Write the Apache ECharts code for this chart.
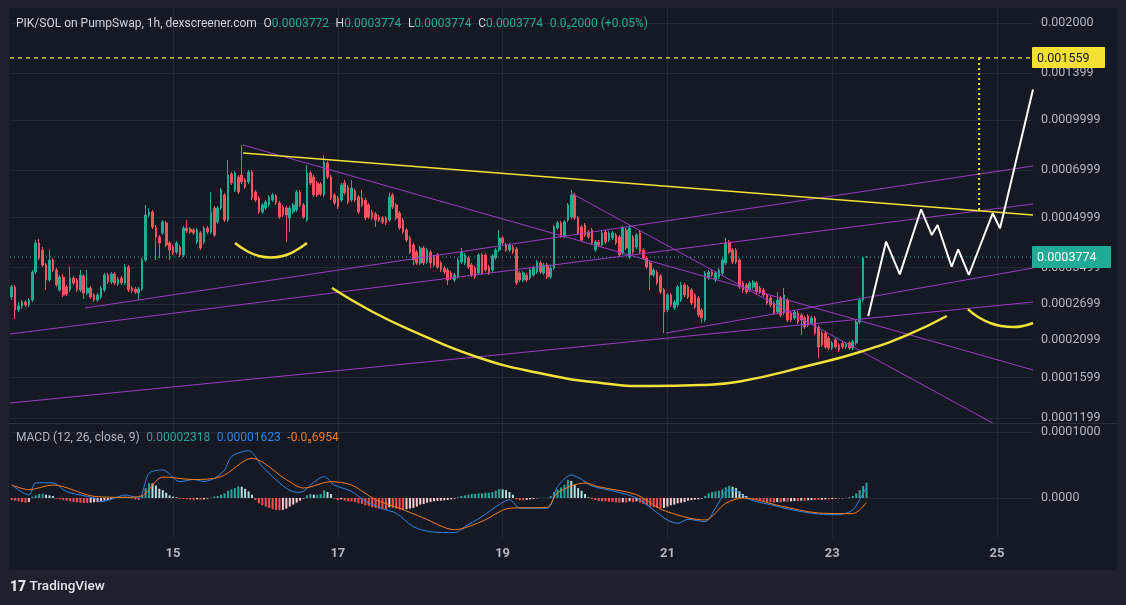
<!DOCTYPE html>
<html><head><meta charset="utf-8">
<script src="https://cdn.jsdelivr.net/npm/echarts/dist/echarts.min.js"></script>
<style>html,body{margin:0;padding:0;background:#1f222c;}#c{width:1126px;height:605px;}</style>
</head><body><div id="c"></div><script>
// ---------- time scale (hourly categories, 13th 01:00 .. 25th 10:00) ----------
const START_DAY = 13, START_HOUR = 1, HOURS = 298;
const dayLabels = ['15', '17', '19', '21', '23', '25'];

// ---------- candles: [open, close, low, high] ----------
const candles = [
[0.0002839,0.0003049,0.0002779,0.0003092],[0.0003049,0.0002588,0.0002427,0.0003092],[0.0002588,0.0002663,0.0002551,0.0002739],[0.0002663,0.0002739,0.0002606,0.0002779],[0.0002739,0.0002682,0.0002644,0.0002779],
[0.0002682,0.0002779,0.0002644,0.0002819],[0.0002779,0.0003392,0.0002739,0.0003441],[0.0003392,0.0004171,0.0003344,0.0004261],[0.0004171,0.0003748,0.0003695,0.0004292],[0.0003968,0.0003566,0.0003515,0.0004054],
[0.0003566,0.0003204,0.0002984,0.0003617],[0.0003204,0.0003695,0.0003159,0.0003968],[0.0003695,0.0003441,0.0003392,0.0003748],[0.0003441,0.0003092,0.0003049,0.0003490],[0.0002984,0.0003274,0.0002942,0.0003321],
[0.0003274,0.0002880,0.0002839,0.0003344],[0.0003049,0.0002900,0.0002859,0.0003092],[0.0002984,0.0003250,0.0002942,0.0003515],[0.0003250,0.0003137,0.0003092,0.0003297],[0.0003204,0.0002984,0.0002942,0.0003250],
[0.0002984,0.0003321,0.0002942,0.0003441],[0.0003297,0.0002921,0.0002799,0.0003344],[0.0002921,0.0003027,0.0002880,0.0003441],[0.0003027,0.0002839,0.0002799,0.0003070],[0.0002880,0.0002779,0.0002739,0.0002921],
[0.0002779,0.0002880,0.0002739,0.0002921],[0.0002839,0.0003027,0.0002799,0.0003070],[0.0002984,0.0003321,0.0002942,0.0003368],[0.0003321,0.0003159,0.0003114,0.0003368],[0.0003159,0.0003344,0.0003114,0.0003392],
[0.0003344,0.0003137,0.0003092,0.0003392],[0.0003114,0.0003227,0.0003070,0.0003274],[0.0003250,0.0003137,0.0003092,0.0003297],[0.0003137,0.0003515,0.0003092,0.0003591],[0.0003515,0.0002984,0.0002942,0.0003566],
[0.0003027,0.0002963,0.0002921,0.0003070],[0.0003006,0.0002942,0.0002900,0.0003049],[0.0002921,0.0003006,0.0002779,0.0003049],[0.0003006,0.0003695,0.0002963,0.0003748],[0.0003695,0.0005092,0.0003643,0.0005468],
[0.0005092,0.0005202,0.0005020,0.0005353],[0.0005202,0.0004675,0.0004609,0.0005277],[0.0004675,0.0004354,0.0003695,0.0004742],[0.0004354,0.0004171,0.0003748,0.0004416],[0.0004480,0.0004845,0.0004416,0.0004914],
[0.0004810,0.0004112,0.0004054,0.0004879],[0.0004171,0.0003968,0.0003695,0.0004231],[0.0004054,0.0003884,0.0003829,0.0004112],[0.0003912,0.0004171,0.0003857,0.0004231],[0.0004054,0.0003829,0.0003775,0.0004112],
[0.0003829,0.0004642,0.0003775,0.0004709],[0.0004642,0.0004544,0.0004480,0.0004914],[0.0004609,0.0004512,0.0004448,0.0004675],[0.0004576,0.0004480,0.0004416,0.0004642],[0.0004201,0.0004576,0.0004142,0.0004642],
[0.0004480,0.0004025,0.0003968,0.0004544],[0.0004201,0.0004642,0.0004142,0.0004709],[0.0004642,0.0004512,0.0004448,0.0004709],[0.0004512,0.0005202,0.0004448,0.0005999],[0.0005353,0.0004416,0.0004354,0.0005429],
[0.0004845,0.0005353,0.0004776,0.0005429],[0.0005353,0.0006085,0.0005277,0.0006172],[0.0005872,0.0004914,0.0004845,0.0005956],[0.0004914,0.0006771,0.0004845,0.0007535],[0.0006820,0.0006396,0.0006306,0.0006918],
[0.0006085,0.0006868,0.0005999,0.0006967],[0.0006675,0.0005999,0.0005914,0.0006771],[0.0006771,0.0006442,0.0006351,0.0008385],[0.0006534,0.0006216,0.0006128,0.0006628],[0.0006442,0.0006918,0.0006351,0.0007017],
[0.0006918,0.0005748,0.0005666,0.0007017],[0.0005999,0.0005666,0.0005586,0.0006085],[0.0005748,0.0005202,0.0005129,0.0005830],[0.0005202,0.0005468,0.0005129,0.0005547],[0.0005353,0.0005586,0.0005277,0.0005666],
[0.0005468,0.0005789,0.0005391,0.0005872],[0.0005666,0.0005872,0.0005586,0.0005956],[0.0005830,0.0005547,0.0005468,0.0005914],[0.0005547,0.0005020,0.0004949,0.0005626],[0.0005391,0.0005092,0.0005020,0.0005468],
[0.0005353,0.0005092,0.0004201,0.0005429],[0.0004985,0.0005353,0.0004512,0.0005429],[0.0005202,0.0005468,0.0005129,0.0005547],[0.0005277,0.0005999,0.0005202,0.0006085],[0.0005999,0.0005468,0.0005391,0.0006085],
[0.0005468,0.0005020,0.0004949,0.0005547],[0.0004914,0.0006868,0.0004845,0.0007271],[0.0006868,0.0006396,0.0006306,0.0006967],[0.0006675,0.0005872,0.0005789,0.0006771],[0.0006396,0.0005872,0.0005789,0.0006488],
[0.0006351,0.0005914,0.0005830,0.0006442],[0.0005872,0.0007428,0.0005789,0.0007808],[0.0007376,0.0006675,0.0006581,0.0007481],[0.0006675,0.0005748,0.0005666,0.0006771],[0.0005872,0.0005547,0.0005468,0.0005956],
[0.0005748,0.0005391,0.0005315,0.0005830],[0.0005666,0.0006306,0.0005586,0.0006396],[0.0006396,0.0005956,0.0005872,0.0006534],[0.0006216,0.0005586,0.0005507,0.0006306],[0.0005666,0.0006172,0.0005586,0.0006534],
[0.0006042,0.0005666,0.0005586,0.0006128],[0.0005789,0.0005202,0.0005129,0.0005872],[0.0005748,0.0005468,0.0005391,0.0006085],[0.0005666,0.0004985,0.0004914,0.0005748],[0.0005468,0.0005020,0.0004949,0.0005547],
[0.0005202,0.0004985,0.0004914,0.0005277],[0.0005129,0.0004914,0.0004675,0.0005202],[0.0005020,0.0004914,0.0004845,0.0005092],[0.0004985,0.0004845,0.0004776,0.0005056],[0.0004985,0.0004810,0.0004742,0.0005056],
[0.0004914,0.0005789,0.0004845,0.0005956],[0.0005872,0.0005391,0.0005315,0.0005956],[0.0005468,0.0004985,0.0004914,0.0005547],[0.0005165,0.0004642,0.0004576,0.0005239],[0.0004914,0.0004512,0.0004448,0.0004985],
[0.0004576,0.0004261,0.0004201,0.0004642],[0.0004323,0.0003912,0.0003857,0.0004385],[0.0004112,0.0003695,0.0003566,0.0004171],[0.0003912,0.0003617,0.0003566,0.0003968],[0.0003617,0.0004025,0.0003566,0.0004083],
[0.0004025,0.0003617,0.0003566,0.0004083],[0.0003643,0.0003968,0.0003591,0.0004025],[0.0003912,0.0003617,0.0003490,0.0003968],[0.0003775,0.0003566,0.0003515,0.0003829],[0.0003829,0.0003515,0.0003465,0.0003884],
[0.0003617,0.0003441,0.0003392,0.0003669],[0.0003490,0.0003392,0.0003344,0.0003540],[0.0003441,0.0003204,0.0003092,0.0003490],[0.0003368,0.0003250,0.0003204,0.0003416],[0.0003204,0.0003321,0.0003159,0.0003368],
[0.0003274,0.0003695,0.0003227,0.0003748],[0.0003643,0.0003912,0.0003591,0.0004025],[0.0003617,0.0003829,0.0003566,0.0003884],[0.0003748,0.0003515,0.0003465,0.0003802],[0.0003566,0.0003321,0.0003274,0.0003617],
[0.0003490,0.0003274,0.0003227,0.0003540],[0.0003368,0.0003829,0.0003321,0.0003884],[0.0003829,0.0003368,0.0003321,0.0003884],[0.0003829,0.0003441,0.0003392,0.0003884],[0.0003515,0.0003368,0.0003321,0.0003566],
[0.0003441,0.0003802,0.0003392,0.0003857],[0.0003748,0.0003968,0.0003695,0.0004025],[0.0003968,0.0004323,0.0003912,0.0004576],[0.0004323,0.0004171,0.0004112,0.0004385],[0.0004112,0.0003968,0.0003912,0.0004171],
[0.0003968,0.0004112,0.0003912,0.0004171],[0.0004054,0.0003912,0.0003857,0.0004112],[0.0003997,0.0003137,0.0003092,0.0004054],[0.0003368,0.0003204,0.0003159,0.0003416],[0.0003204,0.0003368,0.0003159,0.0003416],
[0.0003321,0.0003204,0.0003159,0.0003368],[0.0003250,0.0003441,0.0003204,0.0003490],[0.0003321,0.0003490,0.0003274,0.0003540],[0.0003392,0.0003643,0.0003344,0.0003695],[0.0003617,0.0003392,0.0003344,0.0003669],
[0.0003368,0.0003566,0.0003321,0.0003617],[0.0003566,0.0003274,0.0003227,0.0003617],[0.0003274,0.0003490,0.0003227,0.0003540],[0.0003490,0.0004675,0.0003441,0.0004742],[0.0004642,0.0004810,0.0004576,0.0004879],
[0.0004810,0.0004385,0.0004323,0.0004879],[0.0004385,0.0004845,0.0004323,0.0004914],[0.0004914,0.0005468,0.0004845,0.0005547],[0.0005020,0.0005872,0.0004949,0.0006085],[0.0005872,0.0004985,0.0004914,0.0005956],
[0.0004985,0.0004480,0.0004416,0.0005056],[0.0004675,0.0004261,0.0004201,0.0004742],[0.0004742,0.0004416,0.0004354,0.0004810],[0.0004512,0.0004354,0.0004292,0.0004576],[0.0004576,0.0004171,0.0004112,0.0004642],
[0.0003968,0.0004201,0.0003912,0.0004261],[0.0004201,0.0004112,0.0004054,0.0004261],[0.0004112,0.0004480,0.0004054,0.0004544],[0.0004512,0.0004201,0.0004142,0.0004576],[0.0004261,0.0004480,0.0004201,0.0004544],
[0.0004323,0.0004480,0.0004261,0.0004544],[0.0004416,0.0004171,0.0004112,0.0004480],[0.0004354,0.0003829,0.0003775,0.0004416],[0.0003884,0.0004642,0.0003829,0.0004709],[0.0004576,0.0004025,0.0003968,0.0004642],
[0.0003775,0.0004642,0.0003722,0.0004742],[0.0004354,0.0003912,0.0003857,0.0004416],[0.0004054,0.0004416,0.0003997,0.0004480],[0.0004480,0.0003912,0.0003857,0.0004576],[0.0003968,0.0003748,0.0003695,0.0004025],
[0.0003748,0.0003515,0.0003465,0.0003802],[0.0003617,0.0003321,0.0002984,0.0003669],[0.0003321,0.0003441,0.0003274,0.0003490],[0.0003392,0.0003137,0.0003092,0.0003441],[0.0003297,0.0002942,0.0002900,0.0003344],
[0.0002984,0.0002551,0.0002196,0.0003027],[0.0002588,0.0002880,0.0002551,0.0002921],[0.0002880,0.0002682,0.0002644,0.0002921],[0.0002625,0.0002739,0.0002588,0.0002779],[0.0002682,0.0003049,0.0002644,0.0003092],
[0.0002779,0.0003092,0.0002739,0.0003159],[0.0003092,0.0002880,0.0002839,0.0003137],[0.0003049,0.0002839,0.0002799,0.0003092],[0.0002984,0.0002720,0.0002682,0.0003027],[0.0002880,0.0002644,0.0002606,0.0002921],
[0.0002819,0.0002497,0.0002462,0.0002859],[0.0002588,0.0002445,0.0002359,0.0002625],[0.0002410,0.0003368,0.0002376,0.0003416],[0.0003250,0.0003392,0.0003204,0.0003441],[0.0003392,0.0003321,0.0003274,0.0003441],
[0.0003204,0.0003368,0.0003159,0.0003416],[0.0003274,0.0003441,0.0003227,0.0003490],[0.0003368,0.0003695,0.0003321,0.0003748],[0.0003617,0.0004171,0.0003566,0.0004323],[0.0004201,0.0003912,0.0003857,0.0004261],
[0.0003968,0.0003643,0.0003591,0.0004025],[0.0003968,0.0003643,0.0003591,0.0004025],[0.0003695,0.0003049,0.0003006,0.0003748],[0.0003137,0.0002984,0.0002921,0.0003182],[0.0003092,0.0002942,0.0002900,0.0003137],
[0.0002984,0.0003137,0.0002942,0.0003182],[0.0003049,0.0003159,0.0003006,0.0003204],[0.0003137,0.0002942,0.0002900,0.0003182],[0.0003027,0.0002942,0.0002900,0.0003070],[0.0002984,0.0002880,0.0002839,0.0003027],
[0.0002880,0.0002720,0.0002682,0.0002921],[0.0002819,0.0002682,0.0002644,0.0002859],[0.0002720,0.0002533,0.0002497,0.0002759],[0.0002551,0.0002779,0.0002515,0.0002942],[0.0002819,0.0002497,0.0002462,0.0002859],
[0.0002533,0.0002880,0.0002497,0.0003027],[0.0002779,0.0002410,0.0002376,0.0002819],[0.0002533,0.0002410,0.0002376,0.0002570],[0.0002445,0.0002551,0.0002410,0.0002588],[0.0002533,0.0002376,0.0002342,0.0002570],
[0.0002497,0.0002410,0.0002165,0.0002533],[0.0002445,0.0002292,0.0002260,0.0002480],[0.0002480,0.0002325,0.0002292,0.0002515],[0.0002359,0.0002445,0.0002325,0.0002480],[0.0002445,0.0002196,0.0002165,0.0002480],
[0.0002292,0.0001988,0.0001838,0.0002325],[0.0002196,0.0002017,0.0001988,0.0002228],[0.0002196,0.0001988,0.0001960,0.0002228],[0.0002119,0.0001974,0.0001946,0.0002150],[0.0001974,0.0002045,0.0001946,0.0002075],
[0.0002090,0.0001988,0.0001960,0.0002119],[0.0002017,0.0001946,0.0001919,0.0002045],[0.0002045,0.0001988,0.0001960,0.0002075],[0.0001988,0.0002031,0.0001960,0.0002060],[0.0002045,0.0001974,0.0001946,0.0002075],
[0.0001974,0.0002060,0.0001946,0.0002090],[0.0002045,0.0002376,0.0002017,0.0002410],[0.0002376,0.0002779,0.0002342,0.0002819],[0.0002779,0.0003748,0.0002739,0.0003775],[0.0003772,0.0003774,0.0003772,0.0003774]
];

// ---------- MACD (12, 26, close, 9) ----------
const macdHist = [
-3e-6,-4e-6,-5e-6,-6e-6,-7e-6,-6e-6,2e-6,4e-6,6e-6,6.5e-6,5e-6,4e-6,3e-6,
-1e-6,-2e-6,-3e-6,-4e-6,-5e-6,-6e-6,-6.5e-6,-7e-6,-7.5e-6,-7.5e-6,-7e-6,-6.5e-6,-6e-6,-5e-6,-4e-6,-3e-6,-2e-6,
1e-6,1.5e-6,1.5e-6,2e-6,1.5e-6,-1e-6,-2e-6,-3e-6,
3e-6,15e-6,22.5e-6,22e-6,19e-6,14e-6,12e-6,8e-6,4e-6,2e-6,1e-6,
-1e-6,-1.5e-6,-2e-6,-2.5e-6,-2.5e-6,-2e-6,-2.5e-6,-2e-6,-1e-6,0.5e-6,
2e-6,3e-6,5e-6,7e-6,11e-6,13e-6,15e-6,17.5e-6,17e-6,14e-6,10e-6,5e-6,
-3e-6,-8e-6,-11e-6,-13e-6,-15e-6,-17e-6,-18e-6,-18.5e-6,-18e-6,-16e-6,-13e-6,-10e-6,-7e-6,-4e-6,-1e-6,
4e-6,6e-6,5e-6,5e-6,6e-6,11.5e-6,9e-6,6e-6,
-1e-6,-3e-6,-2e-6,-4e-6,-5e-6,-5e-6,-6e-6,-8e-6,-9e-6,-11e-6,-12e-6,-14e-6,-15e-6,-16e-6,-16.5e-6,-17e-6,-14e-6,-15e-6,-16e-6,-17.5e-6,-17.5e-6,-17e-6,-16e-6,-15e-6,-13e-6,-10e-6,-9e-6,-7e-6,-6e-6,-5e-6,-4.5e-6,-4e-6,-3.5e-6,-3e-6,
-2e-6,-1e-6,1e-6,
3e-6,4e-6,5e-6,6e-6,6e-6,7e-6,7e-6,8e-6,8e-6,9e-6,11e-6,13.5e-6,13e-6,12e-6,9e-6,5e-6,
-2e-6,-3.5e-6,-3.5e-6,-3e-6,-2e-6,-1.5e-6,-0.5e-6,0.5e-6,0.5e-6,0.5e-6,
3e-6,9e-6,13e-6,16e-6,20e-6,27.5e-6,26e-6,20e-6,15e-6,11e-6,6e-6,
1e-6,-1.5e-6,-3e-6,-4.5e-6,-5e-6,-5e-6,-5.5e-6,-6e-6,-6.5e-6,-7e-6,-6.5e-6,-7e-6,-5e-6,-6e-6,-5e-6,-7e-6,-9e-6,-11e-6,-13e-6,-14e-6,-15e-6,-15.5e-6,-15e-6,-13e-6,-11e-6,-10e-6,-8e-6,-7e-6,-6e-6,
-4e-6,-3e-6,-2.5e-6,-2e-6,-1e-6,
3e-6,7e-6,9e-6,10e-6,11e-6,13e-6,16e-6,18.5e-6,17e-6,15e-6,10e-6,6e-6,3e-6,
-1e-6,-2e-6,-3e-6,-4e-6,-5e-6,-6e-6,-6.5e-6,-7e-6,-6e-6,-6.5e-6,-5e-6,-5.5e-6,-5e-6,-4.5e-6,-4.5e-6,-4e-6,-4e-6,-3.5e-6,-3e-6,-3e-6,-3e-6,-2.5e-6,-2e-6,-2e-6,-1.5e-6,-1e-6,-1e-6,-0.5e-6,0.5e-6,
1.5e-6,3e-6,7e-6,12e-6,18e-6,23.18e-6
];
const macdLine = [
[0,1.97e-5],[5,4.5e-6],[7,2.3e-5],[12,2.3e-5],[16,9.5e-6],[24,0],[26,-5.6e-6],[30,0],[33,4.5e-6],[37,0],
[40,3.74e-5],[44,4.24e-5],[49,2.47e-5],[53,2.8e-5],[56,2.5e-5],[59,2.98e-5],[62,4.24e-5],[64,6.26e-5],[69,7.17e-5],[73,4.75e-5],
[76,3.23e-5],[80,1.46e-5],[83,8.6e-6],[85,1.01e-5],[87,1.97e-5],[91,3.23e-5],[94,1.97e-5],[99,1.01e-5],[103,-5e-6],[108,-1.62e-5],
[112,-2.3e-5],[117,-4.34e-5],[122,-5.1e-5],[129,-5.25e-5],[132,-4.34e-5],[137,-2.8e-5],[142,-1.0e-5],[145,-2.5e-6],[148,-1.56e-5],[156,-1.56e-5],
[159,1.72e-5],[163,3.48e-5],[166,2.83e-5],[169,1.82e-5],[176,9.6e-6],[182,0],[187,-1.82e-5],[191,-3.33e-5],[194,-3.84e-5],[197,-3.23e-5],
[202,-3.58e-5],[205,-1.52e-5],[208,9.6e-6],[210,1.2e-5],[215,-2.5e-6],[221,-1.01e-5],[228,-1.87e-5],[235,-2.43e-5],[241,-2.53e-5],[245,-1.8e-5],
[247,-2.5e-6],[249,1.623e-5]
];
const signalLine = [
[0,1.97e-5],[5,1.26e-5],[12,1.97e-5],[24,2.5e-6],[33,1e-6],[38,3.5e-6],[44,3.18e-5],[53,2.8e-5],[61,3.23e-5],[70,6.01e-5],
[80,2.78e-5],[85,1.51e-5],[93,2.47e-5],[99,1.97e-5],[106,-2.5e-6],[113,-1.56e-5],[120,-3.03e-5],[129,-4.8e-5],[137,-3.54e-5],[145,-1.56e-5],
[156,-1.4e-5],[159,8e-6],[167,2.27e-5],[171,1.7e-5],[182,5e-6],[189,-1.67e-5],[197,-3.0e-5],[202,-3.33e-5],[208,-8e-6],[213,0],
[224,-1.21e-5],[235,-2.27e-5],[245,-2.37e-5],[249,-6.954e-6]
];

// ---------- axis ticks ----------
const priceTicks = [0.0001199, 0.0001599, 0.0002099, 0.0002699, 0.0003499, 0.0004999, 0.0006999, 0.0009999, 0.001399, 0.002];
const priceTickLabels = ['0.0001199', '0.0001599', '0.0002099', '0.0002699', '0.0003499', '0.0004999', '0.0006999', '0.0009999', '0.001399', '0.002000'];
const macdTicks = [0, 0.0001];
const macdTickLabels = ['0.0000', '0.0001000'];

// ---------- price markers ----------
const lastPrice = 0.0003774, lastPriceLabel = '0.0003774';
const targetPrice = 0.001559, targetPriceLabel = '0.001559';

// ---------- drawings (x = hour index, y = price) ----------
const purpleLines = [
  [[-0.5, 0.0001334], [297.5, 0.0002739]],
  [[21.35, 0.0002625], [297.5, 0.000722]],
  [[-0.5, 0.0002181], [297.5, 0.0005507]],
  [[190.6, 0.0002196], [297.5, 0.000349]],
  [[67.37, 0.0008385], [297.5, 0.0001688]],
  [[162.9, 0.0005956], [297.5, 0.0000989]]
];
const yellowTrend = [[67.37, 0.000792], [297.5, 0.0005092]];
const smallArc = [[65.04,0.0004171],[68.5,0.000394],[72.0,0.0003802],[75.5,0.0003762],[79.0,0.0003802],[82.5,0.000394],[86.0,0.0004171]];
const bigArc = [[93.3,0.0003027],[105.2,0.0002551],[117.5,0.0002212],[135.5,0.0001852],[153.6,0.0001652],[171.7,0.0001538],[185.9,0.0001505],[200.5,0.0001516],[212.1,0.0001555],[231.7,0.0001736],[247.1,0.0001919],[260.8,0.0002165],[272.4,0.000248]];
const rightArc = [[278.55,0.0002606],[281.5,0.0002462],[285.0,0.0002359],[288.3,0.0002309],[291.7,0.0002292],[297.5,0.0002359]];
const whitePath = [[249.5,0.000248],[254.7,0.000421],[258.7,0.0003337],[264.9,0.0005304],[268.0,0.0004416],[269.7,0.0004742],[273.8,0.0003522],[275.7,0.0003988],[278.8,0.0003321],[285.75,0.0005155],[287.9,0.0004635],[297.5,0.001245]];
const targetDrop = [[281.8, 0.001559], [281.8, 0.0005202]];

// ---------- legend texts ----------
const headerTitle = 'PIK/SOL on PumpSwap, 1h, dexscreener.com';
const headerOHLC = [['O', '0.0003772'], ['H', '0.0003774'], ['L', '0.0003774'], ['C', '0.0003774']];
const headerChange = '0.0\u20852000 (+0.05%)';
const macdTitle = 'MACD (12, 26, close, 9)';
const macdValues = ['0.00002318', '0.00001623', '-0.0\u20856954'];

// ---------- build ----------
const categories = [];
for (let h = 0; h < HOURS; h++) {
  const t = START_HOUR + h;
  categories.push((START_DAY + Math.floor(t / 24)) + ' ' + String(t % 24).padStart(2, '0') + ':00');
}
const dayTickIdx = dayLabels.map(d => categories.indexOf(d + ' 00:00'));
const XMIN = -0.5, XMAX = HOURS - 0.5;

const UP = '#22ab94', DOWN = '#f7525f';
const GRIDC = '#242834';
const FONT = 'Roboto, "Noto Sans", "DejaVu Sans", sans-serif';
const PURPLE = '#9c3cc0', YELLOW = '#f2e13a';

const histData = macdHist.map((v, i) => {
  const p = i > 0 ? macdHist[i - 1] : 0;
  let c;
  if (v >= 0) c = v >= p ? '#26a69a' : '#b2dfdb';
  else c = v <= p ? '#ff5252' : '#ffcdd2';
  return { value: v, itemStyle: { color: c } };
});

function nearestLabel(v, ticks, labels) {
  let best = 0;
  for (let k = 1; k < ticks.length; k++) {
    if (Math.abs(ticks[k] - v) < Math.abs(ticks[best] - v)) best = k;
  }
  return labels[best];
}

const drawLine = (data, color, width, extra) => Object.assign({
  type: 'line', xAxisIndex: 2, yAxisIndex: 0, data: data, symbol: 'none', silent: true,
  lineStyle: { color: color, width: width }, z: 4, clip: true
}, extra || {});

const series = [
  {
    type: 'candlestick', xAxisIndex: 0, yAxisIndex: 0, data: candles, barWidth: '62%', z: 3,
    itemStyle: { color: UP, color0: DOWN, borderColor: UP, borderColor0: DOWN, borderWidth: 1 }
  },
  { type: 'bar', xAxisIndex: 1, yAxisIndex: 1, data: histData, barWidth: '58%', silent: true },
  { type: 'line', xAxisIndex: 3, yAxisIndex: 1, data: macdLine, symbol: 'none', silent: true, smooth: 0.3,
    lineStyle: { color: '#2b85e6', width: 1 }, z: 4 },
  { type: 'line', xAxisIndex: 3, yAxisIndex: 1, data: signalLine, symbol: 'none', silent: true, smooth: 0.3,
    lineStyle: { color: '#f27c1c', width: 1 }, z: 4 }
];
// horizontal price lines across the whole pane
series.push(drawLine([[XMIN, lastPrice], [XMAX, lastPrice]], UP, 1, { lineStyle: { color: UP, width: 1, type: [1, 3] }, z: 2 }));
series.push(drawLine([[XMIN, targetPrice], [XMAX, targetPrice]], YELLOW, 1.2, { lineStyle: { color: YELLOW, width: 1.2, type: [4, 4] } }));
purpleLines.forEach(l => series.push(drawLine(l, PURPLE, 1)));
series.push(drawLine(yellowTrend, YELLOW, 1.5));
series.push(drawLine(smallArc, YELLOW, 2.5, { smooth: 0.5 }));
series.push(drawLine(bigArc, YELLOW, 2.5, { smooth: 0.5 }));
series.push(drawLine(rightArc, YELLOW, 2.5, { smooth: 0.5 }));
series.push(drawLine(whitePath, '#ffffff', 2, { z: 5 }));
series.push(drawLine(targetDrop, YELLOW, 2, { lineStyle: { color: YELLOW, width: 2, type: [2, 3] } }));

const richHeader = {
  t: { fill: '#d1d4dc', fontSize: 12, fontFamily: FONT },
  l: { fill: '#d1d4dc', fontSize: 12, fontFamily: FONT },
  v: { fill: UP, fontSize: 12, fontFamily: FONT }
};
let headerText = '{t|' + headerTitle + '}  ';
headerOHLC.forEach(p => { headerText += '{l|' + p[0] + '}{v|' + p[1] + '}  '; });
headerText += '{v|' + headerChange + '}';

const option = {
  animation: false,
  backgroundColor: '#1f222c',
  textStyle: { fontFamily: FONT },
  grid: [
    { left: 10, top: 8, width: 1023, height: 415, outerBoundsMode: 'none' },
    { left: 10, top: 423, width: 1023, height: 115, outerBoundsMode: 'none' }
  ],
  xAxis: [
    { type: 'category', gridIndex: 0, position: 'bottom', data: categories, boundaryGap: true, show: false },
    { type: 'category', gridIndex: 1, position: 'bottom', data: categories, boundaryGap: true, show: false },
    { type: 'value', gridIndex: 0, position: 'bottom', min: XMIN, max: XMAX, axisLine: { show: false }, axisLabel: { show: false },
      axisTick: { show: false, customValues: dayTickIdx },
      splitLine: { show: true, lineStyle: { color: GRIDC, width: 1 } } },
    { type: 'value', gridIndex: 1, position: 'bottom', min: XMIN, max: XMAX, axisLine: { show: false },
      axisTick: { show: false, customValues: dayTickIdx },
      axisLabel: { show: true, customValues: dayTickIdx, margin: 9, color: '#b2b5be', fontSize: 13, fontWeight: 'bold',
        fontFamily: FONT, formatter: v => dayLabels[dayTickIdx.indexOf(Math.round(v))] || '' },
      splitLine: { show: true, lineStyle: { color: GRIDC, width: 1 } } }
  ],
  yAxis: [
    { type: 'log', logBase: 10, gridIndex: 0, position: 'right', min: 0.0001157, max: 0.002225,
      axisLine: { show: false }, axisTick: { show: false, customValues: priceTicks },
      axisLabel: { show: true, customValues: priceTicks, margin: 8, color: '#b2b5be', fontSize: 12.5, fontFamily: FONT,
        formatter: v => nearestLabel(v, priceTicks, priceTickLabels) },
      splitLine: { show: true, lineStyle: { color: GRIDC, width: 1 } } },
    { type: 'value', gridIndex: 1, position: 'right', min: -0.0000606, max: 0.0001136,
      axisLine: { show: false }, axisTick: { show: false, customValues: macdTicks },
      axisLabel: { show: true, customValues: macdTicks, margin: 8, color: '#b2b5be', fontSize: 12.5, fontFamily: FONT,
        formatter: v => nearestLabel(v, macdTicks, macdTickLabels) },
      splitLine: { show: true, lineStyle: { color: GRIDC, width: 1 } } }
  ],
  graphic: { elements: [
    { id: 'panel', type: 'rect', shape: { x: 9, y: 8, width: 1108, height: 562 }, style: { fill: '#151924' }, z: -10, silent: true },
    { id: 'sep', type: 'line', shape: { x1: 9, y1: 423.5, x2: 1117, y2: 423.5 }, style: { stroke: '#2a2e39', lineWidth: 1 }, z: 10, silent: true },
    { id: 'hdr', type: 'text', x: 16, y: 24, z: 20, silent: true,
      style: { text: headerText, rich: richHeader, fill: '#d1d4dc', verticalAlign: 'middle', align: 'left' } },
    { id: 'macdlg', type: 'text', x: 16, y: 438, z: 20, silent: true,
      style: { text: '{t|' + macdTitle + '}  {a|' + macdValues[0] + '}  {b|' + macdValues[1] + '}  {c|' + macdValues[2] + '}',
        verticalAlign: 'middle', align: 'left', fill: '#b2b5be',
        rich: {
          t: { fill: '#b2b5be', fontSize: 12, fontFamily: FONT },
          a: { fill: '#26a69a', fontSize: 12, fontFamily: FONT },
          b: { fill: '#2b85e6', fontSize: 12, fontFamily: FONT },
          c: { fill: '#f27c1c', fontSize: 12, fontFamily: FONT }
        } } },
    { id: 'logo', type: 'text', x: 10, y: 587, z: 20, silent: true,
      style: { text: '{g|17} {w|TradingView}', verticalAlign: 'middle', align: 'left', fill: '#e0e3eb',
        rich: {
          g: { fill: '#e0e3eb', fontSize: 14, fontWeight: 900, fontFamily: FONT },
          w: { fill: '#e0e3eb', fontSize: 13.5, fontWeight: 500, fontFamily: FONT }
        } } }
  ] },
  series: series
};

const chart = echarts.init(document.getElementById('c'), null, { renderer: 'canvas' });
chart.setOption(option);

// price-scale tags, positioned through the chart's own y scale
const xEdge = chart.convertToPixel({ xAxisIndex: 2 }, XMAX);
const yLast = chart.convertToPixel({ yAxisIndex: 0 }, lastPrice);
const yTarget = chart.convertToPixel({ yAxisIndex: 0 }, targetPrice);
chart.setOption({ graphic: { elements: [
  { id: 'tagLastBg', type: 'rect', shape: { x: xEdge - 1, y: yLast - 11, width: 79, height: 22, r: 1 },
    style: { fill: UP }, z: 30, silent: true },
  { id: 'tagLast', type: 'text', x: xEdge + 4, y: yLast + 0.5, z: 31, silent: true,
    style: { text: lastPriceLabel, fill: '#ffffff', fontSize: 12.5, fontFamily: FONT, verticalAlign: 'middle', align: 'left' } },
  { id: 'tagTgtBg', type: 'rect', shape: { x: xEdge - 1, y: yTarget - 11, width: 73, height: 21, r: 1 },
    style: { fill: '#f7e034' }, z: 30, silent: true },
  { id: 'tagTgt', type: 'text', x: xEdge + 4, y: yTarget + 0.5, z: 31, silent: true,
    style: { text: targetPriceLabel, fill: '#131722', fontSize: 12.5, fontFamily: FONT, verticalAlign: 'middle', align: 'left' } }
] } });
</script></body></html>
